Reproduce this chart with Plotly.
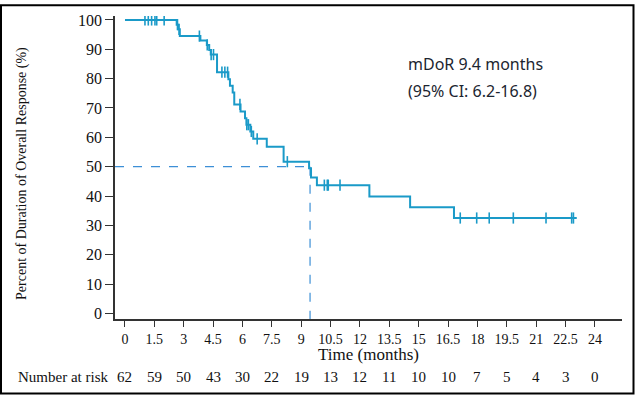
import plotly.graph_objects as go

# ---- data ----
step_times = [0, 2.64, 2.72, 2.8, 3.85, 4.18, 4.3, 4.38, 4.7, 5.28, 5.36, 5.5, 5.58,
              5.9, 6.13, 6.2, 6.4, 6.55, 7.24, 8.1, 9.4, 9.5, 9.8, 12.48, 14.56, 16.8, 23.07]
step_surv = [100, 98.4, 96.8, 94.5, 93.0, 91.5, 89.8, 88.2, 82.2, 79.8, 77.6, 75.3, 71.2,
             68.8, 66.5, 64.3, 62.0, 59.5, 56.8, 51.7, 49.5, 46.3, 43.7, 39.8, 36.2, 32.5, 32.5]

cens_times = [1.02, 1.19, 1.36, 1.53, 1.62, 2.0, 2.68, 2.76, 3.8, 4.2, 4.4, 4.52,
              4.95, 5.1, 5.24, 5.87, 6.22, 6.3, 6.45, 6.75, 8.29,
              10.18, 10.33, 10.38, 10.98, 17.12, 17.96, 18.6, 19.83, 21.5, 22.81, 22.9]
cens_surv = [100, 100, 100, 100, 100, 100, 98.4, 96.8, 94.5, 91.5, 88.2, 88.2,
             82.2, 82.2, 82.2, 71.2, 64.3, 64.3, 62.0, 59.5, 51.7,
             43.7, 43.7, 43.7, 43.7, 32.5, 32.5, 32.5, 32.5, 32.5, 32.5, 32.5]

median_time = 9.45
median_level = 50

x_ticks = [0, 1.5, 3, 4.5, 6, 7.5, 9, 10.5, 12, 13.5, 15, 16.5, 18, 19.5, 21, 22.5, 24]
x_tick_labels = ["0", "1.5", "3", "4.5", "6", "7.5", "9", "10.5", "12", "13.5", "15",
                 "16.5", "18", "19.5", "21", "22.5", "24"]
y_ticks = [0, 10, 20, 30, 40, 50, 60, 70, 80, 90, 100]
at_risk = [62, 59, 50, 43, 30, 22, 19, 13, 12, 11, 10, 10, 7, 5, 4, 3, 0]

x_range = [-0.51, 25.38]
y_range = [-1.92, 101.35]

curve_color = "#1a9ac8"
dash_color = "#3d8fd6"
serif = "Liberation Serif"

fig = go.Figure()

# median reference lines
fig.add_trace(go.Scatter(x=[x_range[0], median_time], y=[median_level, median_level],
                         mode="lines", line=dict(color=dash_color, width=1.2, dash="dash"),
                         hoverinfo="skip", showlegend=False))
fig.add_trace(go.Scatter(x=[median_time, median_time], y=[median_level, y_range[0]],
                         mode="lines", line=dict(color=dash_color, width=1.2, dash="dash"),
                         hoverinfo="skip", showlegend=False))

# KM curve
fig.add_trace(go.Scatter(x=step_times, y=step_surv, mode="lines",
                         line=dict(color=curve_color, width=2, shape="hv"),
                         showlegend=False))
# censor marks
fig.add_trace(go.Scatter(x=cens_times, y=cens_surv, mode="markers",
                         marker=dict(symbol="line-ns", size=8,
                                     line=dict(color=curve_color, width=1.6)),
                         showlegend=False))

W, H = 635, 396
L, R, T, B = 115, 13, 12, 77
pw, ph = W - L - R, H - T - B

def px_x(px):
    return (px - L) / pw

def px_y(py):
    return (H - B - py) / ph

annotations = []
# number at risk
annotations.append(dict(text="Number at risk", xref="paper", yref="paper",
                        x=px_x(16), y=px_y(378), xanchor="left", yanchor="middle",
                        showarrow=False, font=dict(family=serif, size=15, color="#111")))
for xv, n in zip(x_ticks, at_risk):
    annotations.append(dict(text=str(n), xref="x", yref="paper", x=xv, y=px_y(378),
                            xanchor="center", yanchor="middle", showarrow=False,
                            font=dict(family=serif, size=15, color="#111")))
# axis titles
annotations.append(dict(text="Time (months)", xref="paper", yref="paper",
                        x=px_x(368), y=px_y(355), xanchor="center", yanchor="middle",
                        showarrow=False, font=dict(family=serif, size=17, color="#111")))
annotations.append(dict(text="Percent of Duration of Overall Response (%)", xref="paper",
                        yref="paper", x=px_x(22), y=px_y(172), xanchor="center",
                        yanchor="middle", textangle=-90, showarrow=False,
                        font=dict(family=serif, size=14, color="#111")))
# mDoR text
annotations.append(dict(text="mDoR 9.4 months", xref="paper", yref="paper",
                        x=px_x(406), y=px_y(61), xanchor="left", yanchor="middle",
                        showarrow=False, font=dict(family="Noto Sans", size=16, color="#1c2530")))
annotations.append(dict(text="(95% CI: 6.2-16.8)", xref="paper", yref="paper",
                        x=px_x(406), y=px_y(88), xanchor="left", yanchor="middle",
                        showarrow=False, font=dict(family="Noto Sans", size=16, color="#1c2530")))

shapes = [dict(type="rect", xref="paper", yref="paper",
               x0=px_x(1), x1=px_x(633.5), y0=px_y(394.5), y1=px_y(1),
               line=dict(color="#000", width=2), fillcolor="rgba(0,0,0,0)")]

fig.update_layout(
    width=W, height=H,
    margin=dict(l=L, r=R, t=T, b=B),
    paper_bgcolor="white", plot_bgcolor="white",
    showlegend=False,
    annotations=annotations,
    shapes=shapes,
    xaxis=dict(range=x_range, tickvals=x_ticks, ticktext=x_tick_labels,
               showgrid=False, zeroline=False, showline=True, linecolor="#333",
               linewidth=1.5, ticks="outside", ticklen=6, tickwidth=1.2, tickcolor="#333",
               tickfont=dict(family=serif, size=14, color="#111")),
    yaxis=dict(range=y_range, tickvals=y_ticks, showgrid=False, zeroline=False,
               showline=True, linecolor="#333", linewidth=1.5, ticks="outside",
               ticklen=8, tickwidth=1.2, tickcolor="#333",
               tickfont=dict(family=serif, size=16, color="#111")),
)

fig.write_html("out.html", config={"displayModeBar": False},
               post_script="document.body.style.margin='0';document.body.style.padding='0';")
